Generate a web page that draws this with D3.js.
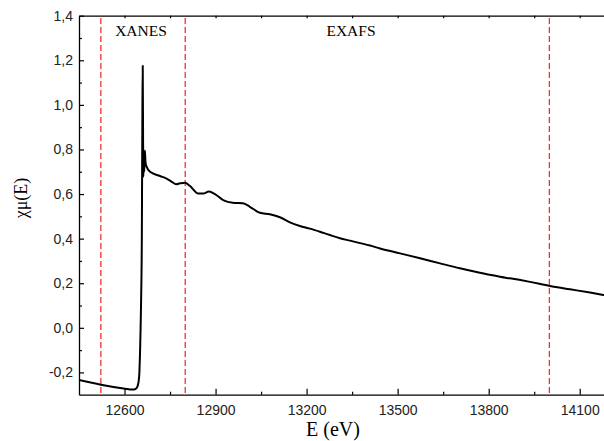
<!DOCTYPE html>
<html>
<head>
<meta charset="utf-8">
<script src="https://cdn.jsdelivr.net/npm/d3@7"></script>
<style>
  html, body { margin: 0; padding: 0; background: #fff; }
  svg { display: block; }
  .tick text { font-family: "Liberation Sans", Arial, sans-serif; font-size: 14px; fill: #222; }
</style>
</head>
<body>
<svg id="chart" width="604" height="441"></svg>
<script>
// X-ray absorption spectrum: energy (eV) and normalized absorption χμ(E)
const energy = [12450, 12522, 12602, 12625, 12635, 12642, 12646, 12649, 12651, 12653,
  12655, 12657, 12658, 12659, 12660, 12661, 12662, 12664, 12665, 12667, 12669, 12672,
  12684, 12717, 12740, 12756, 12770, 12783, 12799, 12816, 12842, 12859, 12878, 12898,
  12925, 12957, 12990, 13013, 13046, 13079, 13112, 13145, 13178, 13211, 13244, 13277,
  13310, 13343, 13376, 13409, 13442, 13508, 13574, 13640, 13705, 13771, 13837, 13870,
  13936, 14002, 14068, 14134, 14180];
const chiMu = [-0.234, -0.255, -0.273, -0.277, -0.276, -0.265, -0.245, -0.200, -0.120, 0.000,
  0.150, 0.400, 0.700, 1.000, 1.176, 0.900, 0.678, 0.760, 0.700, 0.795, 0.745, 0.725,
  0.700, 0.681, 0.668, 0.655, 0.644, 0.648, 0.651, 0.636, 0.603, 0.602, 0.611, 0.600,
  0.573, 0.561, 0.559, 0.543, 0.516, 0.509, 0.496, 0.473, 0.457, 0.445, 0.431, 0.416,
  0.402, 0.391, 0.380, 0.369, 0.356, 0.334, 0.312, 0.289, 0.267, 0.247, 0.229, 0.222,
  0.206, 0.188, 0.173, 0.158, 0.147];

// Region boundaries (eV) and labels
const boundaries = [12522, 12800, 14000];
const regionLabels = ["XANES", "EXAFS"];

// Axis ticks
const xMajorTicks = [12600, 12900, 13200, 13500, 13800, 14100];
const xMinorTicks = [12750, 13050, 13350, 13650, 13950];
const yMajorTicks = [-0.2, 0.0, 0.2, 0.4, 0.6, 0.8, 1.0, 1.2, 1.4];
const yMinorTicks = [-0.1, 0.1, 0.3, 0.5, 0.7, 0.9, 1.1, 1.3];

const svg = d3.select("#chart");
const plotLeft = 79, plotRight = 604, plotTop = 15.7, plotBottom = 394.7;

const x = d3.scaleLinear().domain([12450, 14180]).range([plotLeft, plotRight]);
const y = d3.scaleLinear().domain([-0.3, 1.4]).range([plotBottom, plotTop]);

const commaFmt = v => d3.format(".1f")(v).replace(".", ",").replace("−", "-");

// Clip region for the data
svg.append("defs").append("clipPath").attr("id", "plotClip")
  .append("rect").attr("x", plotLeft).attr("y", plotTop)
  .attr("width", plotRight - plotLeft).attr("height", plotBottom - plotTop);

// Dashed region boundaries
svg.append("g").selectAll("line").data(boundaries).join("line")
  .attr("x1", d => x(d)).attr("x2", d => x(d))
  .attr("y1", y(1.39)).attr("y2", y(-0.3))
  .attr("stroke", "#ee3333").attr("stroke-width", 1.3)
  .attr("stroke-dasharray", "6,3");

// Spectrum line
const line = d3.line().x((d, i) => x(energy[i])).y(d => y(d)).curve(d3.curveMonotoneX);
svg.append("path").datum(chiMu)
  .attr("clip-path", "url(#plotClip)")
  .attr("fill", "none").attr("stroke", "#000").attr("stroke-width", 2)
  .attr("stroke-linejoin", "round")
  .attr("d", line);

// Axes (inward ticks)
function styleAxis(g) {
  g.selectAll(".domain").attr("stroke", "#000").attr("stroke-width", 1.3);
  g.selectAll(".tick line").attr("stroke", "#000").attr("stroke-width", 1.2);
}

svg.append("g").attr("transform", `translate(0,${plotBottom})`)
  .call(d3.axisBottom(x).tickValues(xMajorTicks).tickFormat(d3.format("d"))
    .tickSizeInner(-6).tickSizeOuter(0).tickPadding(10))
  .call(styleAxis);
svg.append("g").attr("transform", `translate(0,${plotBottom})`)
  .call(d3.axisBottom(x).tickValues(xMinorTicks).tickFormat("")
    .tickSizeInner(-3).tickSizeOuter(0))
  .call(g => g.select(".domain").remove())
  .call(styleAxis);

svg.append("g").attr("transform", `translate(0,${plotTop})`)
  .call(d3.axisTop(x).tickValues(xMajorTicks.concat(xMinorTicks)).tickFormat("")
    .tickSizeInner(-2.5).tickSizeOuter(0))
  .call(styleAxis);

svg.append("g").attr("transform", `translate(${plotLeft},0)`)
  .call(d3.axisLeft(y).tickValues(yMajorTicks).tickFormat(commaFmt)
    .tickSizeInner(-5).tickSizeOuter(0).tickPadding(6))
  .call(styleAxis);
svg.append("g").attr("transform", `translate(${plotLeft},0)`)
  .call(d3.axisLeft(y).tickValues(yMinorTicks).tickFormat("")
    .tickSizeInner(-3).tickSizeOuter(0))
  .call(g => g.select(".domain").remove())
  .call(styleAxis);

// Region labels
const serif = "'Liberation Serif', 'Times New Roman', serif";
svg.append("text").attr("x", 141).attr("y", 36).attr("text-anchor", "middle")
  .attr("font-family", serif).attr("font-size", 15.5)
  .text(regionLabels[0]);
svg.append("text").attr("x", 351).attr("y", 36).attr("text-anchor", "middle")
  .attr("font-family", serif).attr("font-size", 15.5)
  .text(regionLabels[1]);

// Axis titles
svg.append("text").attr("x", 333).attr("y", 436).attr("text-anchor", "middle")
  .attr("font-family", serif).attr("font-size", 20)
  .text("E (eV)");
svg.append("text").attr("transform", "translate(27,198) rotate(-90)").attr("text-anchor", "middle")
  .attr("font-family", serif).attr("font-size", 18)
  .text("χμ(E)");
</script>
</body>
</html>
